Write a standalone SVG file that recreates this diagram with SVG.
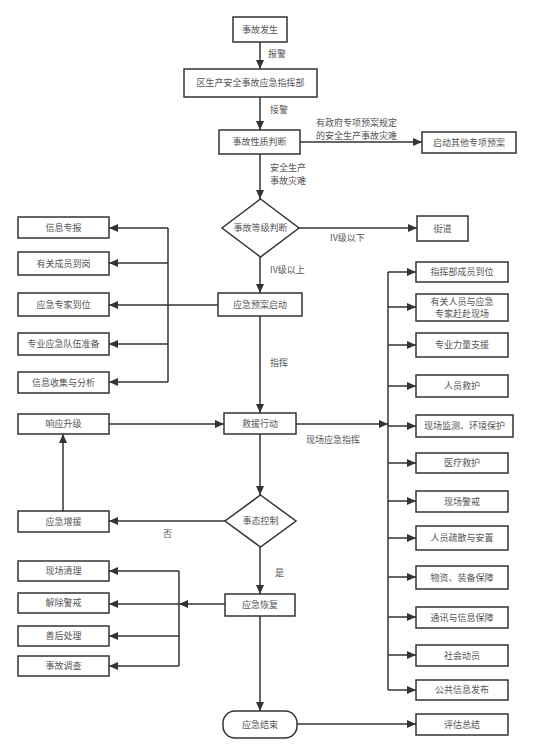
<svg xmlns="http://www.w3.org/2000/svg" width="535" height="756" viewBox="0 0 535 756">
<style>
.n rect,.n path{fill:#fff;stroke:#333;stroke-width:1.5}
text{font-family:"Noto Sans CJK SC","Noto Sans",sans-serif;font-size:9px;fill:#555}
.c{text-anchor:middle}
.e line,.e polyline{stroke:#333;stroke-width:1.5;fill:none}
.a{marker-end:url(#ar)}
</style>
<defs>
<marker id="ar" markerWidth="9" markerHeight="8" refX="9" refY="4" orient="auto" markerUnits="userSpaceOnUse"><path d="M0,0 L9,4 L0,8 Z" fill="#333"/></marker>
</defs>
<rect width="535" height="756" fill="#fff"/>
<g class="e" id="connectors">
<line class="a" x1="260" y1="42" x2="260" y2="69"/>
<line class="a" x1="260" y1="97" x2="260" y2="130"/>
<line class="a" x1="300" y1="142" x2="422" y2="142"/>
<line class="a" x1="260" y1="154" x2="260" y2="199"/>
<line class="a" x1="299" y1="228" x2="417" y2="228"/>
<line class="a" x1="260" y1="257" x2="260" y2="293"/>
<line x1="218" y1="305" x2="168" y2="305"/>
<line x1="168" y1="228" x2="168" y2="382"/>
<line class="a" x1="168" y1="228" x2="109" y2="228"/>
<line class="a" x1="168" y1="263" x2="109" y2="263"/>
<line class="a" x1="168" y1="305" x2="109" y2="305"/>
<line class="a" x1="168" y1="344" x2="109" y2="344"/>
<line class="a" x1="168" y1="382" x2="109" y2="382"/>
<line class="a" x1="260" y1="316" x2="260" y2="413"/>
<line class="a" x1="296" y1="424" x2="388" y2="424"/>
<line x1="388" y1="272" x2="388" y2="690"/>
<line class="a" x1="388" y1="272" x2="416" y2="272"/>
<line class="a" x1="388" y1="307" x2="416" y2="307"/>
<line class="a" x1="388" y1="345" x2="416" y2="345"/>
<line class="a" x1="388" y1="386" x2="416" y2="386"/>
<line class="a" x1="388" y1="426" x2="416" y2="426"/>
<line class="a" x1="388" y1="463" x2="416" y2="463"/>
<line class="a" x1="388" y1="501" x2="416" y2="501"/>
<line class="a" x1="388" y1="538" x2="416" y2="538"/>
<line class="a" x1="388" y1="577" x2="416" y2="577"/>
<line class="a" x1="388" y1="617" x2="416" y2="617"/>
<line class="a" x1="388" y1="655" x2="416" y2="655"/>
<line class="a" x1="388" y1="690" x2="416" y2="690"/>
<line class="a" x1="109" y1="424" x2="224" y2="424"/>
<line class="a" x1="260" y1="434" x2="260" y2="495"/>
<line class="a" x1="225" y1="521" x2="109" y2="521"/>
<line class="a" x1="63" y1="511" x2="63" y2="434"/>
<line class="a" x1="260" y1="547" x2="260" y2="594"/>
<line class="a" x1="225" y1="604" x2="179" y2="604"/>
<line x1="179" y1="571" x2="179" y2="666"/>
<line class="a" x1="179" y1="571" x2="109" y2="571"/>
<line class="a" x1="179" y1="604" x2="109" y2="604"/>
<line class="a" x1="179" y1="636" x2="109" y2="636"/>
<line class="a" x1="179" y1="666" x2="109" y2="666"/>
<line class="a" x1="260" y1="616" x2="260" y2="711"/>
<line class="a" x1="297" y1="724" x2="416" y2="724"/>
<text x="268" y="57">报警</text>
<text x="270" y="113">接警</text>
<text x="316" y="126">有政府专项预案规定</text>
<text x="316" y="138.5">的安全生产事故灾难</text>
<text x="270" y="171">安全生产</text>
<text x="270" y="183.5">事故灾难</text>
<text x="330" y="241">IV级以下</text>
<text x="270" y="273">IV级以上</text>
<text x="270" y="366">指挥</text>
<text x="306" y="443">现场应急指挥</text>
<text x="163" y="537">否</text>
<text x="275" y="576">是</text>
</g>
<g class="n" id="n1"><rect x="233" y="17" width="54" height="25"/><text class="c" x="260" y="33">事故发生</text></g>
<g class="n" id="n2"><rect x="184" y="69" width="133" height="28"/><text class="c" x="250.5" y="86">区生产安全事故应急指挥部</text></g>
<g class="n" id="n3"><rect x="219" y="130" width="81" height="24"/><text class="c" x="259.5" y="145">事故性质判断</text></g>
<g class="n" id="n4"><rect x="422" y="132" width="94" height="21"/><text class="c" x="469" y="146">启动其他专项预案</text></g>
<g class="n" id="n5"><path d="M260.5,199 L299,228 L260.5,257 L222,228 Z"/><text class="c" x="260.5" y="231">事故等级判断</text></g>
<g class="n" id="n6"><rect x="417" y="216" width="51" height="25"/><text class="c" x="442.5" y="232">街道</text></g>
<g class="n" id="n7"><rect x="218" y="293" width="84" height="23"/><text class="c" x="260" y="308">应急预案启动</text></g>
<g class="n" id="l1"><rect x="18" y="217" width="91" height="21"/><text class="c" x="63.5" y="231">信息专报</text></g>
<g class="n" id="l2"><rect x="18" y="252" width="91" height="23"/><text class="c" x="63.5" y="267">有关成员到岗</text></g>
<g class="n" id="l3"><rect x="18" y="293" width="91" height="23"/><text class="c" x="63.5" y="308">应急专家到位</text></g>
<g class="n" id="l4"><rect x="18" y="333" width="91" height="22"/><text class="c" x="63.5" y="347">专业应急队伍准备</text></g>
<g class="n" id="l5"><rect x="18" y="372" width="91" height="21"/><text class="c" x="63.5" y="386">信息收集与分析</text></g>
<g class="n" id="n8"><rect x="224" y="413" width="72" height="21"/><text class="c" x="260" y="427">救援行动</text></g>
<g class="n" id="l6"><rect x="18" y="414" width="91" height="20"/><text class="c" x="63.5" y="427">响应升级</text></g>
<g class="n" id="l7"><rect x="18" y="511" width="91" height="21"/><text class="c" x="63.5" y="525">应急增援</text></g>
<g class="n" id="n9"><path d="M260.5,495 L296,521 L260.5,547 L225,521 Z"/><text class="c" x="260.5" y="524">事态控制</text></g>
<g class="n" id="n10"><rect x="225" y="594" width="70" height="22"/><text class="c" x="260" y="608">应急恢复</text></g>
<g class="n" id="l8"><rect x="18" y="561" width="91" height="20"/><text class="c" x="63.5" y="574">现场清理</text></g>
<g class="n" id="l9"><rect x="18" y="593" width="91" height="20"/><text class="c" x="63.5" y="606">解除警戒</text></g>
<g class="n" id="l10"><rect x="18" y="626" width="91" height="20"/><text class="c" x="63.5" y="639">善后处理</text></g>
<g class="n" id="l11"><rect x="18" y="656" width="91" height="20"/><text class="c" x="63.5" y="669">事故调查</text></g>
<g class="n" id="n11"><rect x="223" y="711" width="74" height="27" rx="12"/><text class="c" x="260" y="728">应急结束</text></g>
<g class="n" id="r1"><rect x="416" y="262" width="92" height="20"/><text class="c" x="462" y="275">指挥部成员到位</text></g>
<g class="n" id="r2"><rect x="416" y="294" width="92" height="27"/><text class="c" x="462" y="304.5">有关人员与应急</text><text class="c" x="462" y="317">专家赶赴现场</text></g>
<g class="n" id="r3"><rect x="416" y="333" width="92" height="24"/><text class="c" x="462" y="348">专业力量支援</text></g>
<g class="n" id="r4"><rect x="416" y="375" width="92" height="22"/><text class="c" x="462" y="389">人员救护</text></g>
<g class="n" id="r5"><rect x="416" y="415" width="97" height="22"/><text class="c" x="464.5" y="429">现场监测、环境保护</text></g>
<g class="n" id="r6"><rect x="416" y="453" width="92" height="20"/><text class="c" x="462" y="466">医疗救护</text></g>
<g class="n" id="r7"><rect x="416" y="491" width="92" height="21"/><text class="c" x="462" y="505">现场警戒</text></g>
<g class="n" id="r8"><rect x="416" y="526" width="92" height="24"/><text class="c" x="462" y="541">人员疏散与安置</text></g>
<g class="n" id="r9"><rect x="416" y="566" width="92" height="23"/><text class="c" x="462" y="581">物资、装备保障</text></g>
<g class="n" id="r10"><rect x="416" y="607" width="92" height="21"/><text class="c" x="462" y="621">通讯与信息保障</text></g>
<g class="n" id="r11"><rect x="416" y="645" width="92" height="21"/><text class="c" x="462" y="659">社会动员</text></g>
<g class="n" id="r12"><rect x="416" y="680" width="92" height="20"/><text class="c" x="462" y="693">公共信息发布</text></g>
<g class="n" id="r13"><rect x="416" y="714" width="92" height="21"/><text class="c" x="462" y="728">评估总结</text></g>
</svg>
